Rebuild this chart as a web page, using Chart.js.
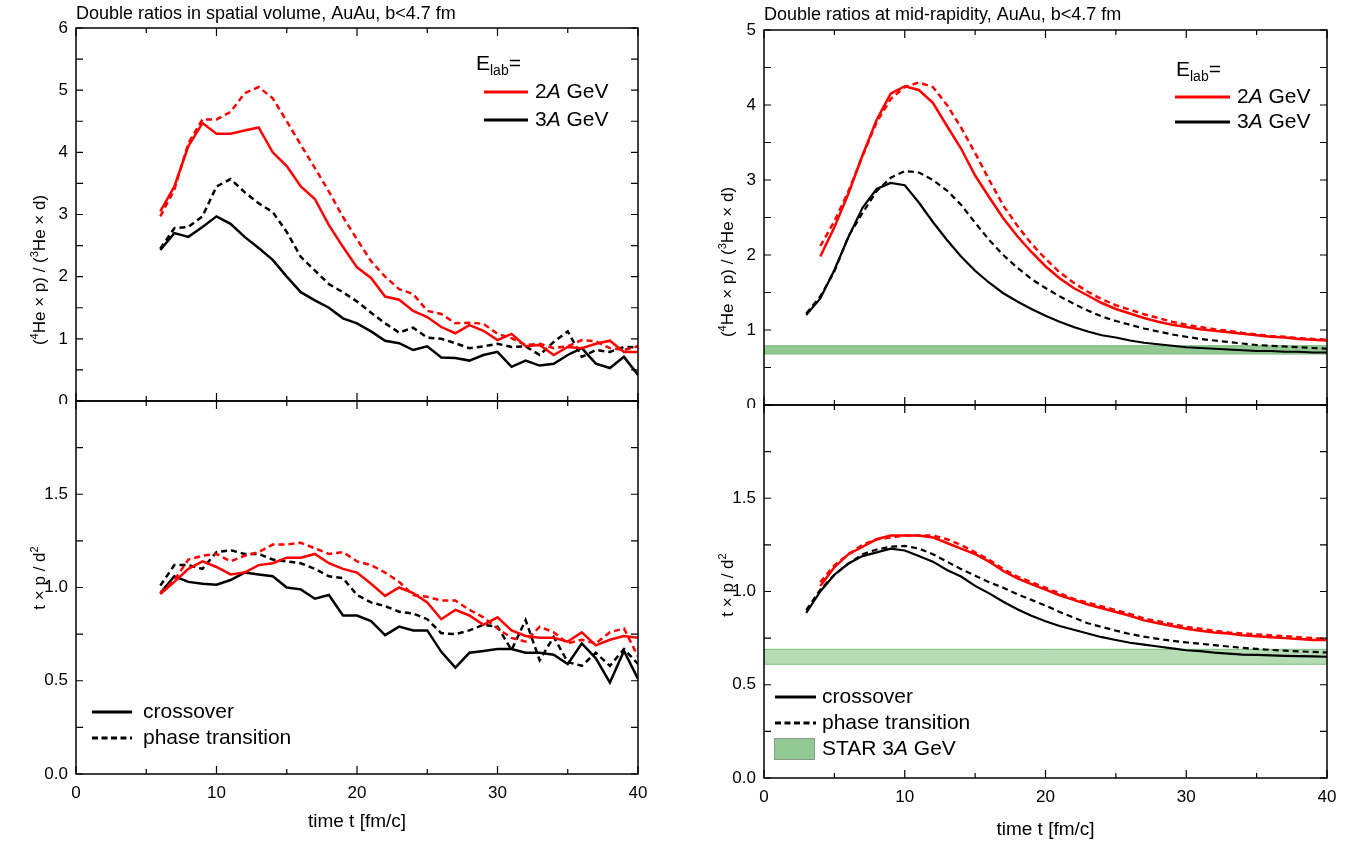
<!DOCTYPE html>
<html>
<head>
<meta charset="utf-8">
<title>Double ratios</title>
<script src="https://cdn.jsdelivr.net/npm/chart.js@4.4.0/dist/chart.umd.min.js"></script>
<style>
  body { margin: 0; background: #fff; width: 1369px; height: 843px; position: relative; overflow: hidden; }
  canvas { position: absolute; }
</style>
</head>
<body>
<canvas id="spatialRatio" width="660" height="404" style="left:0px;top:0px"></canvas>
<canvas id="spatialTpd" width="660" height="448" style="left:0px;top:395px"></canvas>
<canvas id="midRatio" width="666" height="408" style="left:684px;top:0px"></canvas>
<canvas id="midTpd" width="666" height="444" style="left:684px;top:399px"></canvas>
<script>

// time axis (fm/c)
let tSpatial = [6,7,8,9,10,11,12,13,14,15,16,17,18,19,20,21,22,23,24,25,26,27,28,29,30,31,32,33,34,35,36,37,38,39,40];
let tMid2 = [4,5,6,7,8,9,10,11,12,13,14,15,16,17,18,19,20,21,22,23,24,25,26,27,28,29,30,31,32,33,34,35,36,37,38,39,40];
let tMid3 = [3,4,5,6,7,8,9,10,11,12,13,14,15,16,17,18,19,20,21,22,23,24,25,26,27,28,29,30,31,32,33,34,35,36,37,38,39,40];

// (4He x p)/(3He x d) in spatial volume
let spRatio2Cross = [3.05,3.45,4.1,4.47,4.3,4.3,4.35,4.4,4.0,3.78,3.45,3.25,2.83,2.48,2.15,1.98,1.68,1.63,1.45,1.35,1.19,1.09,1.22,1.13,0.98,1.08,0.88,0.9,0.74,0.87,0.85,0.92,0.97,0.79,0.79];
let spRatio2Phase = [2.97,3.4,4.15,4.53,4.53,4.65,4.95,5.05,4.87,4.5,4.12,3.75,3.37,2.96,2.6,2.25,2.0,1.8,1.72,1.45,1.4,1.25,1.26,1.24,1.08,1.01,0.9,0.92,0.85,0.88,0.98,0.96,0.85,0.82,0.88];
let spRatio3Cross = [2.43,2.7,2.64,2.8,2.97,2.85,2.64,2.46,2.27,2.0,1.75,1.62,1.5,1.33,1.25,1.12,0.97,0.93,0.82,0.88,0.7,0.69,0.65,0.74,0.79,0.55,0.65,0.57,0.6,0.74,0.85,0.6,0.53,0.71,0.42];
let spRatio3Phase = [2.45,2.78,2.8,2.97,3.45,3.57,3.36,3.18,3.04,2.72,2.32,2.1,1.88,1.75,1.6,1.42,1.25,1.1,1.18,1.02,1.0,0.93,0.85,0.88,0.92,0.87,0.88,0.74,0.95,1.12,0.71,0.82,0.79,0.87,0.86];

// t x p / d^2 in spatial volume
let spTpd2Cross = [0.965,1.03,1.1,1.14,1.11,1.07,1.08,1.12,1.13,1.16,1.16,1.18,1.13,1.1,1.08,1.02,0.955,1.0,0.97,0.92,0.83,0.88,0.85,0.8,0.84,0.77,0.74,0.73,0.73,0.71,0.76,0.69,0.72,0.74,0.73];
let spTpd2Phase = [0.97,1.04,1.15,1.17,1.18,1.14,1.17,1.19,1.23,1.23,1.24,1.21,1.18,1.19,1.14,1.12,1.08,1.03,0.96,0.95,0.93,0.93,0.88,0.84,0.78,0.73,0.71,0.79,0.76,0.7,0.72,0.7,0.76,0.78,0.63];
let spTpd3Cross = [0.97,1.06,1.03,1.02,1.015,1.04,1.08,1.07,1.06,1.0,0.99,0.94,0.96,0.85,0.85,0.82,0.745,0.79,0.77,0.77,0.655,0.57,0.65,0.66,0.67,0.67,0.65,0.65,0.64,0.59,0.7,0.62,0.49,0.66,0.51];
let spTpd3Phase = [1.01,1.12,1.12,1.1,1.19,1.2,1.18,1.18,1.15,1.14,1.13,1.1,1.06,1.05,0.96,0.92,0.9,0.87,0.86,0.83,0.755,0.75,0.77,0.8,0.79,0.665,0.825,0.61,0.735,0.6,0.58,0.65,0.58,0.67,0.59];

// (4He x p)/(3He x d) at mid-rapidity
let midRatio2Cross = [1.98,2.37,2.82,3.33,3.8,4.15,4.25,4.2,4.03,3.72,3.42,3.06,2.77,2.49,2.25,2.04,1.85,1.69,1.56,1.46,1.36,1.28,1.22,1.16,1.11,1.07,1.04,1.01,0.99,0.97,0.95,0.93,0.91,0.9,0.88,0.87,0.86];
let midRatio2Phase = [2.12,2.45,2.85,3.32,3.77,4.08,4.24,4.3,4.24,4.0,3.7,3.36,3.0,2.66,2.39,2.15,1.95,1.77,1.63,1.51,1.41,1.33,1.27,1.21,1.16,1.11,1.07,1.04,1.01,0.99,0.96,0.94,0.92,0.91,0.89,0.88,0.87];
let midRatio3Cross = [1.2,1.42,1.8,2.24,2.63,2.88,2.96,2.93,2.7,2.44,2.2,1.98,1.79,1.63,1.49,1.38,1.28,1.19,1.11,1.04,0.98,0.93,0.9,0.86,0.83,0.81,0.79,0.77,0.76,0.75,0.74,0.73,0.72,0.72,0.71,0.71,0.7,0.7];
let midRatio3Phase = [1.22,1.45,1.78,2.25,2.56,2.85,3.03,3.12,3.1,3.0,2.86,2.67,2.43,2.2,2.0,1.83,1.68,1.56,1.45,1.35,1.26,1.18,1.12,1.07,1.02,0.98,0.94,0.91,0.88,0.86,0.84,0.82,0.8,0.79,0.78,0.77,0.76,0.75];

// t x p / d^2 at mid-rapidity
let midTpd2Cross = [1.03,1.13,1.2,1.24,1.28,1.3,1.3,1.3,1.29,1.26,1.23,1.2,1.16,1.11,1.07,1.04,1.01,0.98,0.955,0.93,0.91,0.89,0.87,0.845,0.83,0.815,0.8,0.79,0.78,0.775,0.765,0.76,0.755,0.75,0.745,0.74,0.74];
let midTpd2Phase = [1.05,1.14,1.2,1.25,1.28,1.29,1.3,1.3,1.3,1.28,1.25,1.21,1.17,1.12,1.08,1.05,1.02,0.99,0.96,0.94,0.92,0.9,0.88,0.855,0.84,0.825,0.81,0.8,0.79,0.78,0.775,0.77,0.765,0.76,0.755,0.75,0.745];
let midTpd3Cross = [0.885,1.0,1.09,1.15,1.19,1.21,1.23,1.22,1.19,1.16,1.115,1.08,1.03,0.99,0.945,0.905,0.87,0.84,0.815,0.795,0.775,0.755,0.74,0.725,0.715,0.705,0.695,0.685,0.68,0.672,0.667,0.662,0.66,0.657,0.655,0.653,0.652,0.65];
let midTpd3Phase = [0.9,1.01,1.09,1.15,1.2,1.225,1.24,1.245,1.23,1.2,1.16,1.12,1.085,1.05,1.02,0.985,0.955,0.925,0.89,0.86,0.83,0.81,0.79,0.772,0.758,0.746,0.736,0.727,0.72,0.712,0.705,0.698,0.692,0.687,0.683,0.679,0.676,0.673];

// STAR 3A GeV bands (low, high)
let bandT = [0, 40];
let starRatio = [0.68, 0.79];
let starTpd = [0.61, 0.69];

const FONT = "'Liberation Sans', Arial, sans-serif";
const RED = '#ff0000';

function pts(ts, vs) {
  return ts.map((t, i) => ({ x: t, y: vs[i] }));
}

function line(ts, vs, color, dashed, width) {
  return {
    data: pts(ts, vs),
    borderColor: color,
    borderWidth: width,
    borderDash: dashed ? [6, 4] : [],
    pointRadius: 0,
    fill: false,
    tension: 0,
    order: 0
  };
}

function band(lims, fillColor, edgeColor) {
  return [
    { data: pts(bandT, [lims[0], lims[0]]), borderColor: edgeColor, borderWidth: 1, pointRadius: 0, fill: false, order: 5 },
    { data: pts(bandT, [lims[1], lims[1]]), borderColor: edgeColor, borderWidth: 1, pointRadius: 0, fill: '-1', backgroundColor: fillColor, order: 5 }
  ];
}

// frame round the plot with inward ticks on all four sides
const frameTicks = {
  id: 'frameTicks',
  afterDatasetsDraw(chart, args, o) {
    const { ctx, chartArea: a, scales } = chart;
    const xs = scales.x, ys = scales.y;
    const isMajor = (v, m) => Math.abs(v / m - Math.round(v / m)) < 1e-6;
    ctx.save();
    ctx.strokeStyle = '#000';
    ctx.lineWidth = 1.5;
    ctx.strokeRect(a.left, a.top, a.right - a.left, a.bottom - a.top);
    ctx.lineWidth = 1.2;
    ctx.beginPath();
    for (let v = xs.min; v <= xs.max + 1e-9; v += o.xMinor) {
      const p = xs.getPixelForValue(v);
      const len = isMajor(v, o.xMajor) ? 8 : 5;
      ctx.moveTo(p, a.bottom); ctx.lineTo(p, a.bottom - len);
      ctx.moveTo(p, a.top); ctx.lineTo(p, a.top + len);
    }
    for (let v = ys.min; v <= ys.max + 1e-9; v += o.yMinor) {
      const p = ys.getPixelForValue(v);
      ctx.moveTo(a.left, p); ctx.lineTo(a.left + 7, p);
      ctx.moveTo(a.right, p); ctx.lineTo(a.right - 7, p);
    }
    ctx.stroke();
    ctx.restore();
  }
};

// draws a run of text pieces (normal / sub / sup / italic) starting at x
function drawParts(ctx, parts, x, y, size) {
  parts.forEach(p => {
    const small = p.sub || p.sup;
    ctx.font = (p.italic ? 'italic ' : '') + (small ? Math.round(size * 0.65) : size) + 'px ' + FONT;
    const dy = p.sub ? size * 0.35 : (p.sup ? -size * 0.3 : 0);
    ctx.fillText(p.t, x, y + dy);
    x += ctx.measureText(p.t).width;
  });
  return x;
}

function partsWidth(ctx, parts, size) {
  let w = 0;
  parts.forEach(p => {
    const small = p.sub || p.sup;
    ctx.font = (p.italic ? 'italic ' : '') + (small ? Math.round(size * 0.65) : size) + 'px ' + FONT;
    w += ctx.measureText(p.t).width;
  });
  return w;
}

// legend drawn inside the plot (needs sub/italic text pieces)
const panelLegend = {
  id: 'panelLegend',
  afterDraw(chart, args, o) {
    if (!o.items) return;
    const { ctx, chartArea: a } = chart;
    ctx.save();
    ctx.textBaseline = 'middle';
    ctx.textAlign = 'left';
    o.items.forEach(it => {
      const y = a.top + it.dy;
      if (it.line) {
        ctx.strokeStyle = it.line.color;
        ctx.lineWidth = 3;
        ctx.setLineDash(it.line.dash ? [6, 3.5] : []);
        ctx.beginPath();
        ctx.moveTo(a.left + it.x0, y);
        ctx.lineTo(a.left + it.x1, y);
        ctx.stroke();
        ctx.setLineDash([]);
      }
      if (it.box) {
        ctx.fillStyle = it.box.fill;
        ctx.strokeStyle = it.box.edge;
        ctx.lineWidth = 1;
        ctx.fillRect(a.left + it.x0, y - 11, it.x1 - it.x0, 22);
        ctx.strokeRect(a.left + it.x0 + 0.5, y - 10.5, it.x1 - it.x0 - 1, 21);
      }
      ctx.fillStyle = '#000';
      drawParts(ctx, it.parts, a.left + it.tx, y, 21);
    });
    ctx.restore();
  }
};

// rotated y-axis title with superscripts
const yTitle = {
  id: 'yTitle',
  afterDraw(chart, args, o) {
    if (!o.parts) return;
    const { ctx, chartArea: a } = chart;
    ctx.save();
    ctx.translate(o.x, a.top + o.dy);
    ctx.rotate(-Math.PI / 2);
    ctx.textBaseline = 'middle';
    ctx.textAlign = 'left';
    ctx.fillStyle = '#000';
    const w = partsWidth(ctx, o.parts, 17);
    drawParts(ctx, o.parts, -w / 2, 0, 17);
    ctx.restore();
  }
};

Chart.register(frameTicks, panelLegend, yTitle);

function opts(p) {
  return {
    responsive: false,
    animation: false,
    layout: { padding: p.padding },
    plugins: {
      legend: { display: false },
      tooltip: { enabled: false },
      title: p.title ? {
        display: true, text: p.title, align: 'start', fullSize: false, color: '#000',
        font: { family: FONT, size: 18, weight: 'normal' }, padding: p.titlePad
      } : { display: false },
      panelLegend: { items: p.legend },
      yTitle: { parts: p.yTitle, x: p.yTitleX, dy: p.yTitleDy },
      frameTicks: { xMinor: 5, xMajor: 10, yMinor: p.yMinor }
    },
    scales: {
      x: {
        type: 'linear', min: 0, max: 40, display: p.showX,
        grid: { display: false, drawTicks: false }, border: { display: false },
        ticks: { stepSize: 10, color: '#000', padding: 9, font: { family: FONT, size: 17 } },
        title: {
          display: true, text: 'time t [fm/c]', color: '#000',
          font: { family: FONT, size: 19 }, padding: { top: 0, bottom: p.xTitlePad }
        },
        afterFit: s => { s.height = p.xHeight; s.paddingLeft = 0; s.paddingRight = 0; }
      },
      y: {
        type: 'linear', min: p.yMin, max: p.yMax,
        grid: { display: false, drawTicks: false }, border: { display: false },
        ticks: { stepSize: p.yStep, color: '#000', padding: 8, font: { family: FONT, size: 17 }, callback: p.yLabel },
        title: { display: false },
        afterFit: s => { s.width = p.yWidth; s.paddingTop = 0; s.paddingBottom = 0; }
      }
    }
  };
}

const ratioTitle = [{ t: '(' }, { t: '4', sup: true }, { t: 'He \u00d7 p) / (' }, { t: '3', sup: true }, { t: 'He \u00d7 d)' }];
const tpdTitle = [{ t: 't \u00d7 p / d' }, { t: '2', sup: true }];
const intLabel = v => String(v);
const decLabel = v => (v >= 2 ? '' : v.toFixed(1));

const elabParts = [{ t: 'E' }, { t: 'lab', sub: true }, { t: '=' }];
const gev2 = [{ t: '2' }, { t: 'A', italic: true }, { t: ' GeV' }];
const gev3 = [{ t: '3' }, { t: 'A', italic: true }, { t: ' GeV' }];

new Chart(document.getElementById('spatialRatio').getContext('2d'), {
  type: 'line',
  data: {
    datasets: [
      line(tSpatial, spRatio2Cross, RED, false, 2.5),
      line(tSpatial, spRatio2Phase, RED, true, 2.5),
      line(tSpatial, spRatio3Cross, '#000', false, 2.5),
      line(tSpatial, spRatio3Phase, '#000', true, 2.5)
    ]
  },
  options: opts({
    padding: { left: 0, right: 22, top: 0, bottom: 3 },
    title: 'Double ratios in spatial volume, AuAu, b<4.7 fm', titlePad: { top: 3, bottom: 3.4 },
    showX: false, xHeight: 0, xTitlePad: 0,
    yMin: 0, yMax: 6, yStep: 1, yMinor: 0.5, yLabel: intLabel,
    yTitle: ratioTitle, yTitleX: 40, yTitleDy: 242, yWidth: 76,
    legend: [
      { dy: 36, tx: 400, parts: elabParts },
      { dy: 64, x0: 408, x1: 452, tx: 459, line: { color: RED }, parts: gev2 },
      { dy: 92, x0: 408, x1: 452, tx: 459, line: { color: '#000' }, parts: gev3 }
    ]
  })
});

new Chart(document.getElementById('spatialTpd').getContext('2d'), {
  type: 'line',
  data: {
    datasets: [
      line(tSpatial, spTpd2Cross, RED, false, 2.5),
      line(tSpatial, spTpd2Phase, RED, true, 2.5),
      line(tSpatial, spTpd3Cross, '#000', false, 2.5),
      line(tSpatial, spTpd3Phase, '#000', true, 2.5)
    ]
  },
  options: opts({
    padding: { left: 0, right: 22, top: 6, bottom: 0 },
    showX: true, xHeight: 69, xTitlePad: 9.6,
    yMin: 0, yMax: 2, yStep: 0.5, yMinor: 0.25, yLabel: decLabel,
    yTitle: tpdTitle, yTitleX: 40, yTitleDy: 177, yWidth: 76,
    legend: [
      { dy: 311, x0: 16, x1: 56, tx: 67, line: { color: '#000' }, parts: [{ t: 'crossover' }] },
      { dy: 337, x0: 16, x1: 56, tx: 67, line: { color: '#000', dash: true }, parts: [{ t: 'phase transition' }] }
    ]
  })
});

new Chart(document.getElementById('midRatio').getContext('2d'), {
  type: 'line',
  data: {
    datasets: [
      line(tMid2, midRatio2Cross, RED, false, 2.5),
      line(tMid2, midRatio2Phase, RED, true, 2.5),
      line(tMid3, midRatio3Cross, '#000', false, 2.2),
      line(tMid3, midRatio3Phase, '#000', true, 2.2)
    ].concat(band(starRatio, 'rgba(140,198,140,0.95)', 'rgb(120,185,120)'))
  },
  options: opts({
    padding: { left: 0, right: 23, top: 0, bottom: 3 },
    title: 'Double ratios at mid-rapidity, AuAu, b<4.7 fm', titlePad: { top: 4, bottom: 4.4 },
    showX: false, xHeight: 0, xTitlePad: 0,
    yMin: 0, yMax: 5, yStep: 1, yMinor: 0.5, yLabel: intLabel,
    yTitle: ratioTitle, yTitleX: 44, yTitleDy: 232, yWidth: 80,
    legend: [
      { dy: 40, tx: 412, parts: elabParts },
      { dy: 67, x0: 411, x1: 466, tx: 473, line: { color: RED }, parts: gev2 },
      { dy: 92, x0: 411, x1: 466, tx: 473, line: { color: '#000' }, parts: gev3 }
    ]
  })
});

new Chart(document.getElementById('midTpd').getContext('2d'), {
  type: 'line',
  data: {
    datasets: [
      line(tMid2, midTpd2Cross, RED, false, 2.5),
      line(tMid2, midTpd2Phase, RED, true, 2.5),
      line(tMid3, midTpd3Cross, '#000', false, 2.2),
      line(tMid3, midTpd3Phase, '#000', true, 2.2)
    ].concat(band(starTpd, 'rgba(178,218,178,0.95)', 'rgb(120,190,120)'))
  },
  options: opts({
    padding: { left: 0, right: 23, top: 6, bottom: 0 },
    showX: true, xHeight: 65, xTitlePad: 1.6,
    yMin: 0, yMax: 2, yStep: 0.5, yMinor: 0.25, yLabel: decLabel,
    yTitle: tpdTitle, yTitleX: 44, yTitleDy: 180, yWidth: 80,
    legend: [
      { dy: 292, x0: 11, x1: 52, tx: 58, line: { color: '#000' }, parts: [{ t: 'crossover' }] },
      { dy: 318, x0: 11, x1: 52, tx: 58, line: { color: '#000', dash: true }, parts: [{ t: 'phase transition' }] },
      { dy: 344, x0: 10, x1: 51, tx: 58, box: { fill: '#93c993', edge: '#8a9a8a' }, parts: [{ t: 'STAR 3' }, { t: 'A', italic: true }, { t: ' GeV' }] }
    ]
  })
});
</script>
</body>
</html>
